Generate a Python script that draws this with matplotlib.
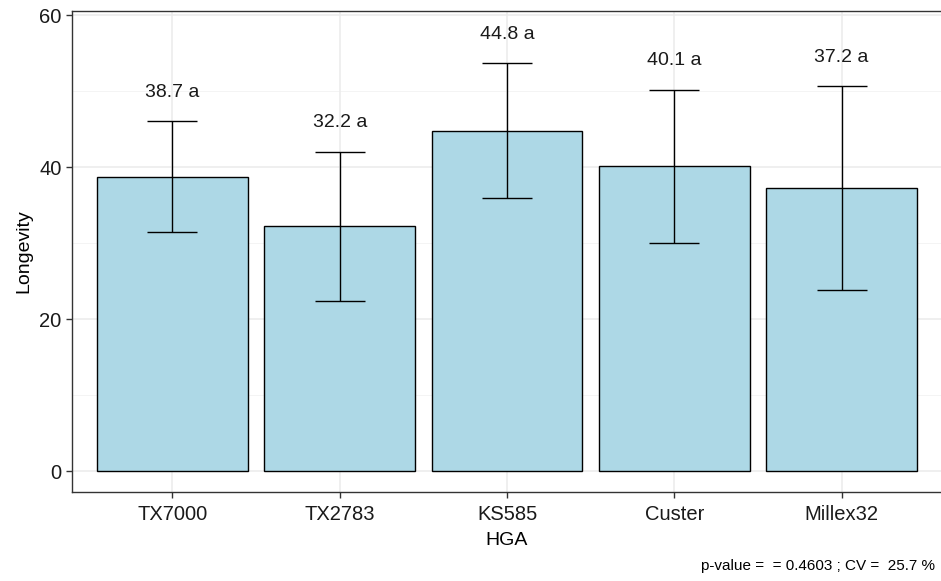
import matplotlib
matplotlib.use("Agg")
import matplotlib.pyplot as plt
import numpy as np

plt.rcParams['font.family'] = ['Liberation Sans', 'DejaVu Sans']

categories = ["TX7000", "TX2783", "KS585", "Custer", "Millex32"]
means = [38.7, 32.2, 44.8, 40.1, 37.2]
sds = [7.3, 9.8, 8.9, 10.1, 13.4]
groups = ["a", "a", "a", "a", "a"]
footnote = "p-value =  = 0.4603 ; CV =  25.7 %"

fig = plt.figure(figsize=(9.41, 5.81), dpi=100)
# panel runs slightly past the right edge of the figure
ax = fig.add_axes([72/941, 89/581, 870/941, (492-11)/581])

x = np.arange(1, len(categories) + 1)

# grid
for v in [0, 20, 40, 60]:
    ax.axhline(v, color="#ebebeb", lw=1.1, zorder=0)
for v in [10, 30, 50]:
    ax.axhline(v, color="#f2f2f2", lw=0.6, zorder=0)
for v in x:
    ax.axvline(v, color="#ebebeb", lw=1.1, zorder=0)

ax.bar(x, means, width=0.9, color="#ADD8E6", edgecolor="black", linewidth=1.0, zorder=2)
ax.errorbar(x, means, yerr=sds, fmt="none", ecolor="black", elinewidth=1.0,
            capsize=18, capthick=1.0, zorder=3)

for xi, m, s, g in zip(x, means, sds, groups):
    ax.text(xi, m + s + 3.8, f"{m:.1f} {g}", ha="center", va="center",
            fontsize=14, color="#1a1a1a", zorder=4)

ax.set_xlim(0.4, 5.6)
ax.set_ylim(-2.76, 60.53)
ax.set_xticks(x)
ax.set_xticklabels(categories)
ax.set_yticks([0, 20, 40, 60])
ax.tick_params(axis="both", labelsize=14.5, colors="#333333", length=4, width=1,
               labelcolor="#1a1a1a")
ax.tick_params(axis="x", pad=5)
for sp in ax.spines.values():
    sp.set_color("#333333")
    sp.set_linewidth(1.0)
ax.spines["right"].set_visible(False)

ax.set_xlabel("HGA", fontsize=14, color="black", labelpad=6)
ax.set_ylabel("Longevity", fontsize=14, color="black", labelpad=5)

fig.text(935/941, 1 - 566/581, footnote, ha="right", va="center", fontsize=11, color="black")

fig.savefig("out.png", dpi=100)
